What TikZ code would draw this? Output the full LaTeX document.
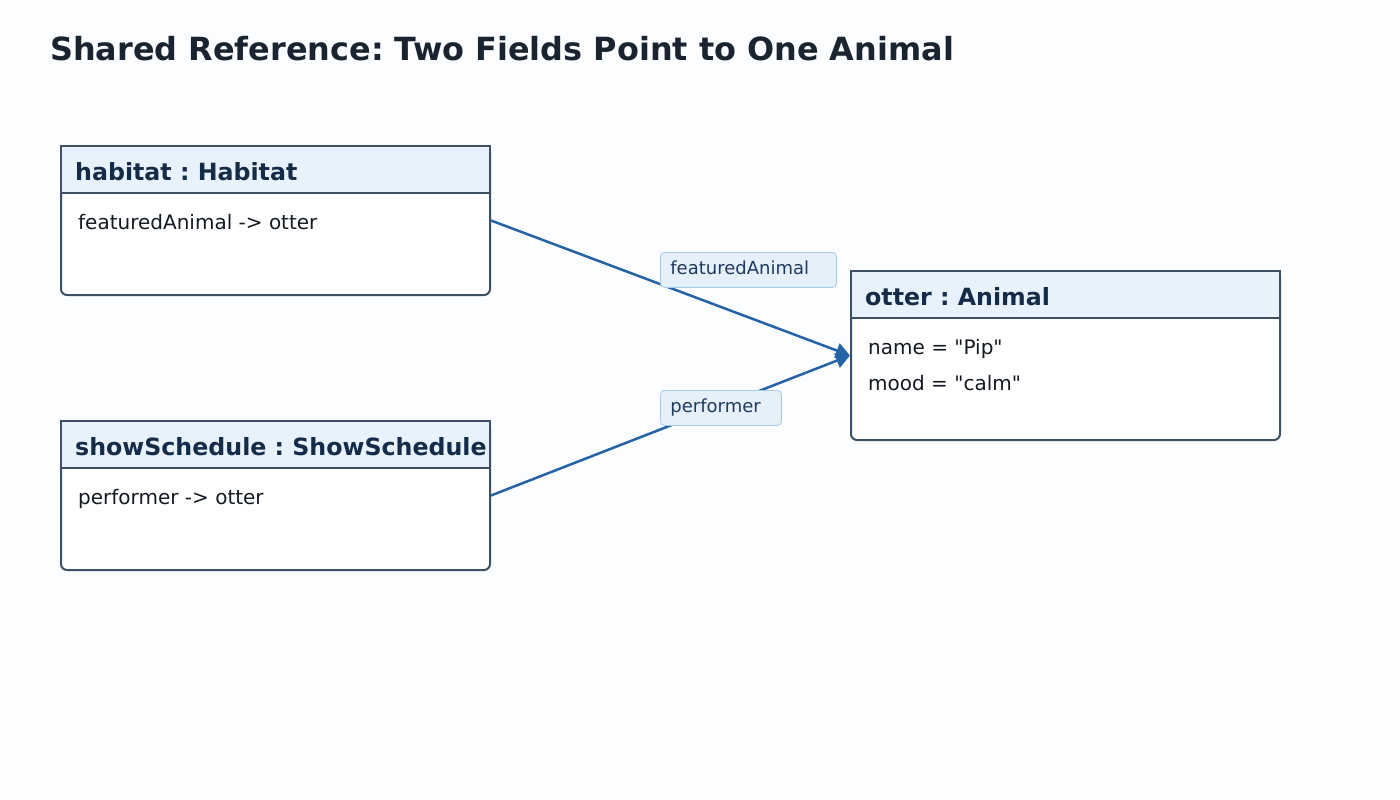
\documentclass[tikz,border=0pt]{standalone}
\usepackage{fontspec}
\setmainfont{DejaVu Sans}[Ligatures=TeXOff]
\usetikzlibrary{arrows.meta}
\frenchspacing
\definecolor{bg}{HTML}{FBFDFF}
\definecolor{boxline}{HTML}{3D5068}
\definecolor{headfill}{HTML}{E8F2FC}
\definecolor{titlecol}{HTML}{1A2430}
\definecolor{headtext}{HTML}{152C48}
\definecolor{bodytext}{HTML}{141A22}
\definecolor{arrowcol}{HTML}{2563A8}
\definecolor{lblfill}{HTML}{E6F0FB}
\definecolor{lblline}{HTML}{A9C9E8}
\definecolor{lbltext}{HTML}{1E3A5F}
\tikzset{
  objbody/.style={draw=boxline, line width=2pt, fill=white, rounded corners=6pt,
    minimum width=429pt, inner sep=0pt},
  objhead/.style={draw=boxline, line width=2pt, fill=headfill,
    minimum width=429pt, minimum height=47pt, inner sep=0pt},
  headlbl/.style={anchor=base west, font=\bfseries\fontsize{23.7}{28}\selectfont, text=headtext, inner sep=0pt},
  bodylbl/.style={anchor=base west, font=\fontsize{20}{24}\selectfont, text=bodytext, inner sep=0pt},
  reflink/.style={draw=arrowcol, line width=2.5pt, -{Triangle[length=14pt,width=15pt]}},
  edgelbl/.style={draw=lblline, line width=0.8pt, fill=lblfill, rounded corners=4pt,
    inner xsep=10pt, inner ysep=0pt, align=left, text=lbltext,
    text height=15pt, text depth=6pt,
    font=\fontsize{18}{21}\selectfont},
}
\begin{document}
\begin{tikzpicture}[x=1pt,y=-1pt]
\fill[bg] (0,0) rectangle (1400,800);
\useasboundingbox (0,0) rectangle (1400,800);

\node[anchor=base west, font=\bfseries\fontsize{31.9}{36}\selectfont, text=titlecol, inner sep=0pt] (title) at (50,60) {Shared Reference: Two Fields Point to One Animal};

% habitat
\node[objbody, minimum height=149pt] (habitat) at (275.5,220.5) {};
\node[objhead, anchor=north west] (habitathead) at (habitat.north west) {};
\node[headlbl] (habitatname) at (75,180) {habitat : Habitat};
\node[bodylbl] (habitatf1) at (78,229) {featuredAnimal -> otter};

% showSchedule
\node[objbody, minimum height=149pt] (show) at (275.5,495.5) {};
\node[objhead, anchor=north west] (showhead) at (show.north west) {};
\node[headlbl] (showname) at (75,455) {showSchedule : ShowSchedule};
\node[bodylbl] (showf1) at (78,504) {performer -> otter};

% otter
\node[objbody, minimum height=169pt] (otter) at (1065.5,355.5) {};
\node[objhead, anchor=north west] (otterhead) at (otter.north west) {};
\node[headlbl] (ottername) at (865,305) {otter : Animal};
\node[bodylbl] (otterf1) at (868,354) {name = "Pip"};
\node[bodylbl] (otterf2) at (868,390) {mood = "calm"};

% links
\draw[reflink] (habitat.east) -- (otter.west);
\draw[reflink] (show.east) -- (otter.west);

\node[edgelbl, anchor=north west, minimum width=176pt, minimum height=35pt, text width=156pt] (lbl1) at (660,252) {featuredAnimal};
\node[edgelbl, anchor=north west, minimum width=121pt, minimum height=35pt, text width=101pt] (lbl2) at (660,390) {performer};
\end{tikzpicture}
\end{document}
